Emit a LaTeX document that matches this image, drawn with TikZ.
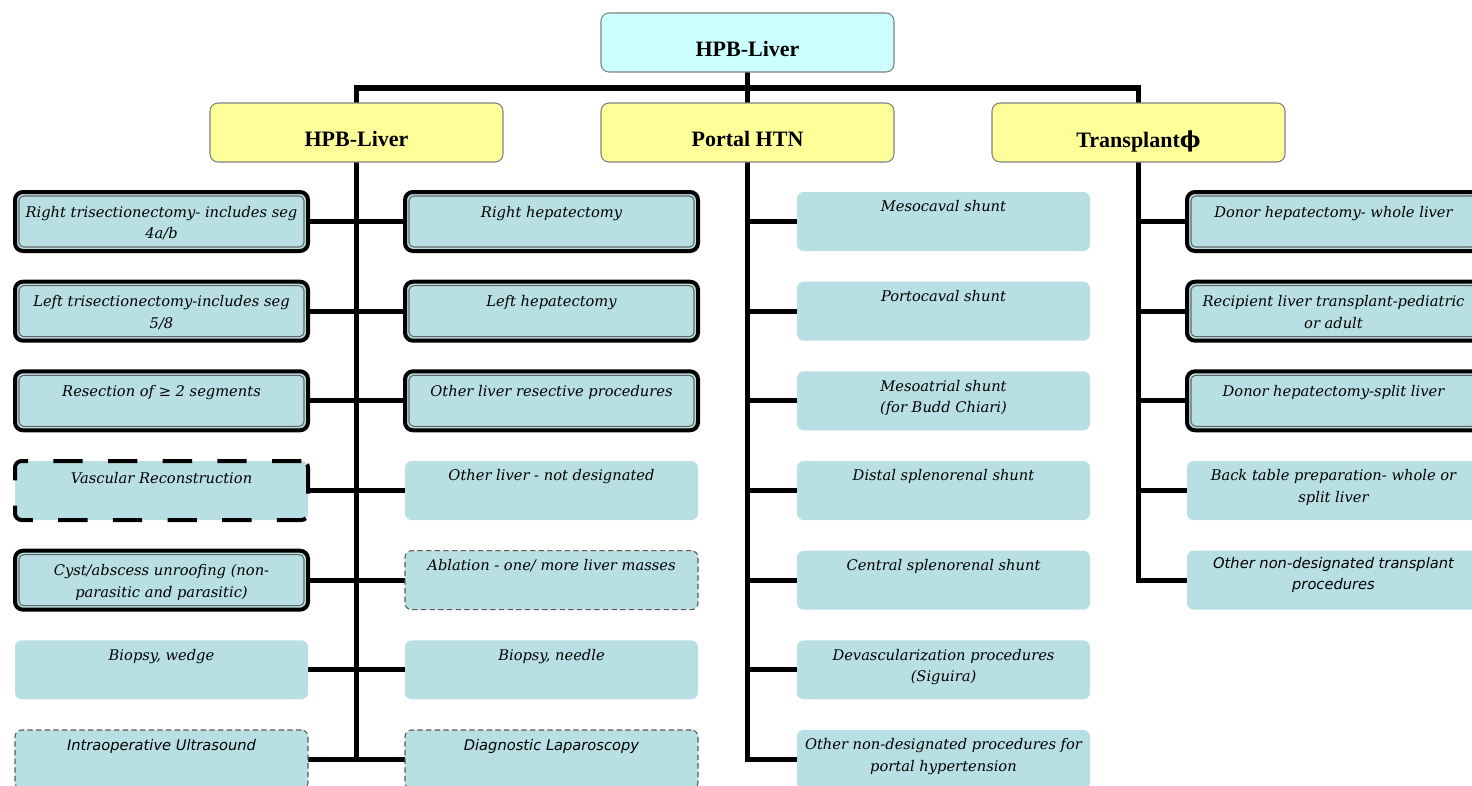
\documentclass[tikz,border=0pt]{standalone}
\usepackage{fontspec}
\setmainfont{Liberation Serif}
\newfontfamily\itemserif{DejaVu Serif}
\newfontfamily\itemsans{DejaVu Sans}
\newfontfamily\symfont{DejaVu Serif}
\usetikzlibrary{backgrounds}
\definecolor{itemfill}{RGB}{184,223,227}
\definecolor{rootfill}{RGB}{204,255,255}
\definecolor{headfill}{RGB}{255,255,153}
\newlength\boxw \setlength\boxw{219.75pt}
\newlength\boxh \setlength\boxh{44.25pt}
\newcommand\cell[6]{\node[#1] (#2) at (#3,#4) {\parbox[c][\boxh][t]{\boxw}{\centering\vspace*{#5}#6\par}};}
\newcommand\tcell[4]{\cell{thickbox}{#1}{#2}{#3}{10.5pt}{#4}%
  \draw[innerline] ([shift={(3pt,-3pt)}]#1.north west) rectangle ([shift={(-3pt,3pt)}]#1.south east);}
\begin{document}
\begin{tikzpicture}[x=0.75pt,y=-0.75pt,
  base/.style={inner sep=0pt, outer sep=0pt, rounded corners=5pt, fill=itemfill,
    font=\itemserif\itshape\fontsize{11pt}{16pt}\selectfont},
  plainbox/.style={base},
  sansbox/.style={base, font=\itemsans\itshape\fontsize{11pt}{16pt}\selectfont},
  thickbox/.style={base, draw=black, line width=3pt, rounded corners=6pt},
  vascbox/.style={base, draw=black, line width=3pt, dash pattern=on 22pt off 19pt},
  thinbox/.style={base, draw=black!65, line width=0.8pt, dash pattern=on 4pt off 2.5pt},
  thinsans/.style={thinbox, font=\itemsans\itshape\fontsize{11pt}{16pt}\selectfont},
  innerline/.style={draw=black!60, line width=0.8pt, rounded corners=3.5pt},
  headbox/.style={inner sep=0pt, outer sep=0pt, rounded corners=6pt, draw=black!50, line width=0.8pt,
    font=\bfseries\fontsize{16.5pt}{19pt}\selectfont},
  conn/.style={line width=4pt, line cap=rect}]
\useasboundingbox (0,0) rectangle (1472,786);
\clip (0,0) rectangle (1472,786);

% headers
\node[headbox, fill=rootfill] (root) at (747.5,42.5) {\parbox[c][\boxh][t]{\boxw}{\centering\vspace*{21pt}HPB-Liver\par}};
\node[headbox, fill=headfill] (h) at (356.5,132.5) {\parbox[c][\boxh][t]{\boxw}{\centering\vspace*{21pt}HPB-Liver\par}};
\node[headbox, fill=headfill] (p) at (747.5,132.5) {\parbox[c][\boxh][t]{\boxw}{\centering\vspace*{21pt}Portal HTN\par}};
\node[headbox, fill=headfill] (t) at (1138.5,132.5) {\parbox[c][\boxh][t]{\boxw}{\centering\vspace*{21pt}Transplant{\symfont\bfseries ϕ}\par}};

% HPB left column
\tcell{hl1}{161.5}{221.5}{Right trisectionectomy- includes seg\\4a/b}
\tcell{hl2}{161.5}{311.2}{Left trisectionectomy-includes seg\\5/8}
\tcell{hl3}{161.5}{400.8}{Resection of ≥ 2 segments}
\cell{vascbox}{hl4}{161.5}{490.5}{8.5pt}{Vascular Reconstruction}
\tcell{hl5}{161.5}{580.2}{Cyst/abscess unroofing (non-\\parasitic and parasitic)}
\cell{plainbox}{hl6}{161.5}{669.8}{6.5pt}{Biopsy, wedge}
\cell{thinsans}{hl7}{161.5}{759.5}{7pt}{Intraoperative Ultrasound}

% HPB right column
\tcell{hr1}{551.5}{221.5}{Right hepatectomy}
\tcell{hr2}{551.5}{311.2}{Left hepatectomy}
\tcell{hr3}{551.5}{400.8}{Other liver resective procedures}
\cell{plainbox}{hr4}{551.5}{490.5}{6.5pt}{Other liver - not designated}
\cell{thinbox}{hr5}{551.5}{580.2}{6.5pt}{Ablation - one/ more liver masses}
\cell{plainbox}{hr6}{551.5}{669.8}{6.5pt}{Biopsy, needle}
\cell{thinsans}{hr7}{551.5}{759.5}{7pt}{Diagnostic Laparoscopy}

% Portal column
\cell{plainbox}{pc1}{943.5}{221.5}{6.5pt}{Mesocaval shunt}
\cell{plainbox}{pc2}{943.5}{311.2}{6.5pt}{Portocaval shunt}
\cell{plainbox}{pc3}{943.5}{400.8}{6.5pt}{Mesoatrial shunt\\(for Budd Chiari)}
\cell{plainbox}{pc4}{943.5}{490.5}{6.5pt}{Distal splenorenal shunt}
\cell{plainbox}{pc5}{943.5}{580.2}{6.5pt}{Central splenorenal shunt}
\cell{plainbox}{pc6}{943.5}{669.8}{6.5pt}{Devascularization procedures\\(Siguira)}
\cell{plainbox}{pc7}{943.5}{759.5}{6.5pt}{Other non-designated procedures for\\portal hypertension}

% Transplant column
\tcell{tc1}{1333.5}{221.5}{Donor hepatectomy- whole liver}
\tcell{tc2}{1333.5}{311.2}{Recipient liver transplant-pediatric\\or adult}
\tcell{tc3}{1333.5}{400.8}{Donor hepatectomy-split liver}
\cell{plainbox}{tc4}{1333.5}{490.5}{6.5pt}{Back table preparation- whole or\\split liver}
\cell{sansbox}{tc5}{1333.5}{580.2}{5pt}{Other non-designated transplant\\procedures}

\begin{scope}[on background layer]
\coordinate (bar) at (747.5,88);
\draw[conn] (h.north) |- (bar) -| (t.north);
\draw[conn] (root.south) -- (p.north);
\draw[conn] (h.south) -- (h.south |- hl7.east);
\foreach \i in {1,...,7}{\draw[conn] (hl\i.east) -- (hr\i.west);}
\draw[conn] (p.south) -- (p.south |- pc7.west);
\foreach \i in {1,...,7}{\draw[conn] (p.south |- pc\i.west) -- (pc\i.west);}
\draw[conn] (t.south) -- (t.south |- tc5.west);
\foreach \i in {1,...,5}{\draw[conn] (t.south |- tc\i.west) -- (tc\i.west);}
\end{scope}
\end{tikzpicture}
\end{document}
